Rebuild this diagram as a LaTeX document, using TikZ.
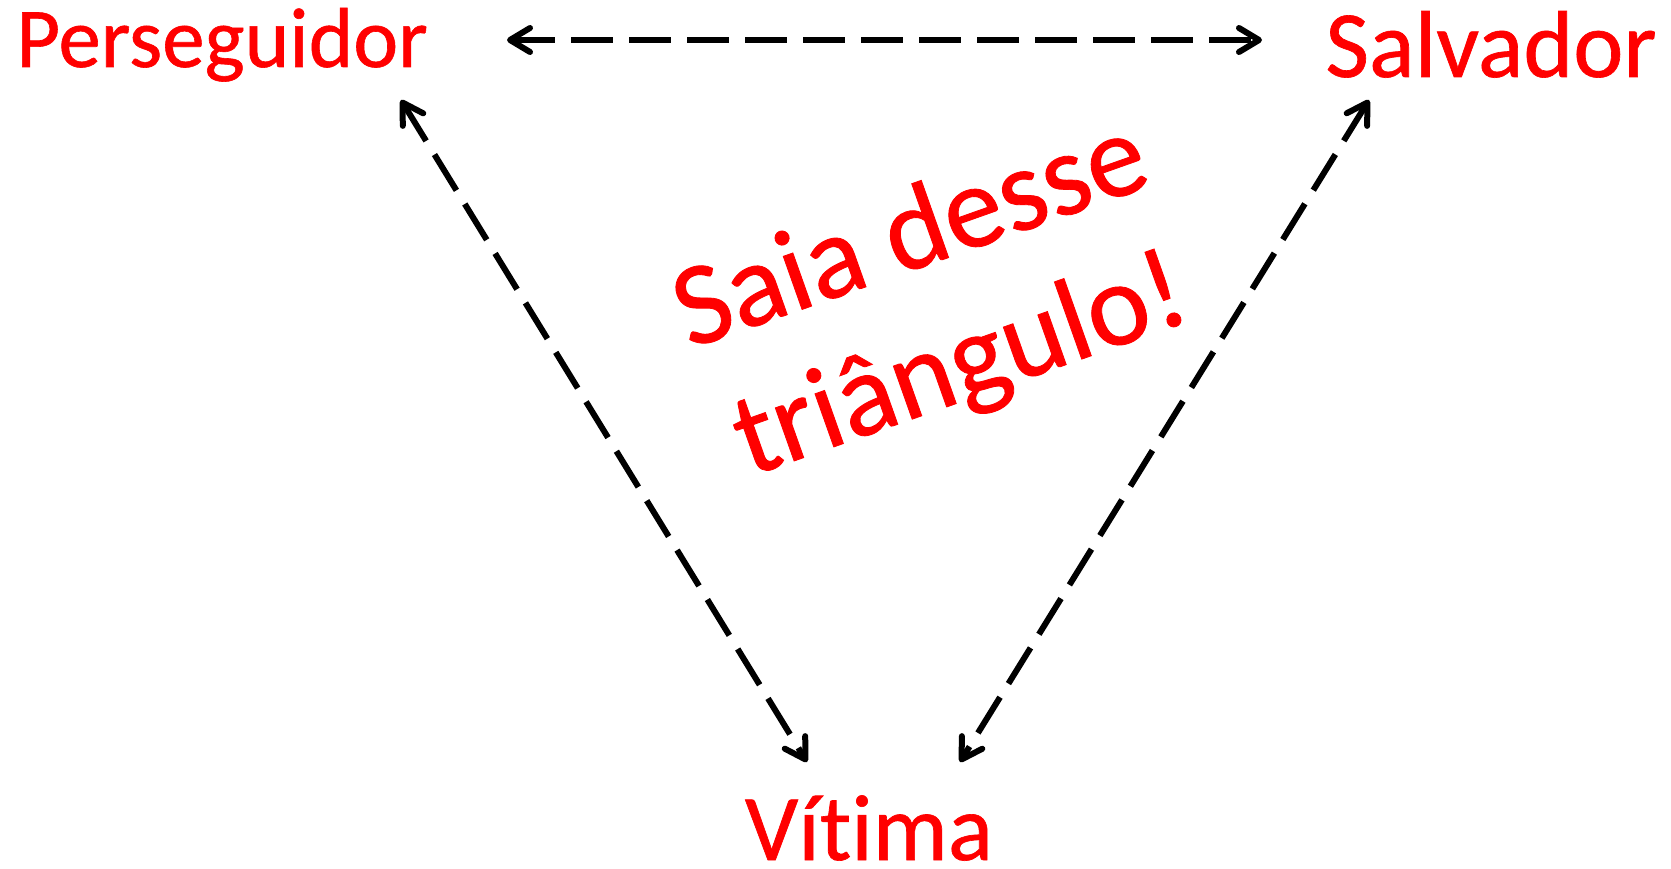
\documentclass[tikz,border=0pt]{standalone}
\usepackage{fontspec}
\setmainfont{Carlito}[Ligatures=NoCommon, RawFeature={embolden=0.7}]
\usetikzlibrary{arrows.meta}
\begin{document}
\begin{tikzpicture}[x=1pt,y=-1pt,
  lbl/.style={text=red, inner sep=0pt, anchor=base},
  barb/.tip={Straight Barb[length=20pt,width=24pt,round]},
  conn/.style={line width=6pt, dash pattern=on 42pt off 16pt, barb-barb}]
\useasboundingbox (0,0) rectangle (1671,869);
\node[lbl, font=\fontsize{85}{100}\selectfont] (pers) at (222,67) {Perseguidor};
\node[lbl, font=\fontsize{95}{110}\selectfont] (salv) at (1491,77) {Salvador};
\node[lbl, font=\fontsize{94}{110}\selectfont] (viti) at (869,860) {Vítima};
\node[lbl, rotate=19.5, font=\fontsize{118}{150}\selectfont] (saia) at (922,267) {Saia desse};
\node[lbl, rotate=19.5, font=\fontsize{118}{150}\selectfont] (tria) at (972,398) {triângulo!};
\coordinate (pR) at (507,40);
\coordinate (sL) at (1262,40);
\coordinate (pD) at (401,100);
\coordinate (vL) at (807,762);
\coordinate (sD) at (1369,100);
\coordinate (vR) at (960,762);
\draw[conn] (pR) -- (sL);
\draw[conn] (pD) -- (vL);
\draw[conn] (sD) -- (vR);
\end{tikzpicture}
\end{document}
